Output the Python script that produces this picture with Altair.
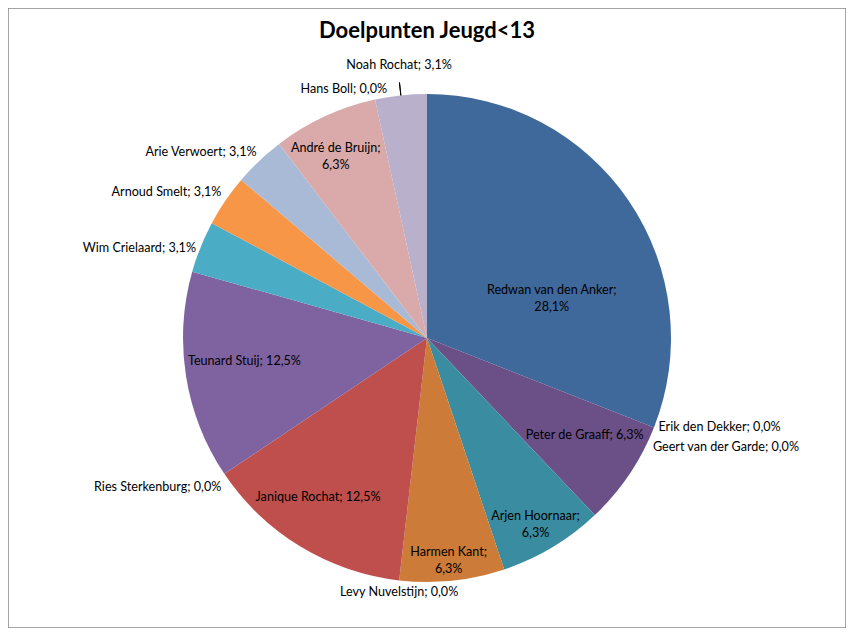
import math
import altair as alt
import pandas as pd

# ---- data ----
players = ["Redwan van den Anker", "Erik den Dekker", "Geert van der Garde", "Peter de Graaff",
           "Arjen Hoornaar", "Harmen Kant", "Levy Nuvelstijn", "Janique Rochat",
           "Ries Sterkenburg", "Teunard Stuij", "Wim Crielaard", "Arnoud Smelt",
           "Arie Verwoert", "André de Bruijn", "Hans Boll", "Noah Rochat"]
shares = [28.1, 0.0, 0.0, 6.3, 6.3, 6.3, 0.0, 12.5, 0.0, 12.5, 3.1, 3.1, 3.1, 6.3, 0.0, 3.1]
two_line_labels = ["Redwan van den Anker", "Arjen Hoornaar", "Harmen Kant", "André de Bruijn"]

# ---- styling / layout ----
colors = ["#3F689B", "#9BBB59", "#8064A2", "#6A5087", "#3A8CA0", "#CC7B38", "#4F81BD",
          "#BE4F4D", "#C0504D", "#7F63A1", "#4BACC6", "#F79646", "#A9BAD7", "#D9AAA9",
          "#9BBB59", "#B9B0CB"]
# label placement: radius in px, angular nudge in degrees, alignment
label_layout = {
    "Redwan van den Anker": (131, 16.5, "center"),
    "Erik den Dekker": (248, -0.5, "left"),
    "Geert van der Garde": (251, 4.3, "left"),
    "Peter de Graaff": (185, -2.5, "center"),
    "Arjen Hoornaar": (216, 0.8, "center"),
    "Harmen Kant": (224, 0.4, "center"),
    "Levy Nuvelstijn": (256, -0.3, "center"),
    "Janique Rochat": (193, 3.0, "center"),
    "Ries Sterkenburg": (254, -2.1, "right"),
    "Teunard Stuij": (184, 1.8, "center"),
    "Wim Crielaard": (248, -0.6, "right"),
    "Arnoud Smelt": (252, 1.1, "right"),
    "Arie Verwoert": (252, 0.9, "right"),
    "André de Bruijn": (203, -1.9, "center"),
    "Hans Boll": (252, 3.2, "right"),
    "Noah Rochat": (274, 0.3, "center"),
}
CX, CY, R = 419, 330, 244
FONT = "Lato"
FS = 12.6
LH = 17

total = sum(shares)
rows = []
acc = 0.0
for name, v in zip(players, shares):
    start, end = acc, acc + v
    acc = end
    pct = f"{v:.1f}".replace(".", ",") + "%"
    two = name in two_line_labels
    label = f"{name};\n{pct}" if two else f"{name}; {pct}"
    r, nudge, align = label_layout[name]
    mid = (start + end) / 2
    rows.append(dict(player=name, share=v, start=start, end=end, mid=mid,
                     lpos=(mid + nudge / 360 * total) % total, lr=r, align=align,
                     lines=2 if two else 1, label=label))
df = pd.DataFrame(rows)

theta_scale = alt.Scale(domain=[0, total], range=[0, 2 * math.pi])

base = alt.Chart(df)

pie = base.mark_arc(radius=R).encode(
    x=alt.value(CX), y=alt.value(CY),
    theta=alt.Theta("start:Q", scale=theta_scale),
    theta2="end:Q",
    color=alt.Color("player:N", scale=alt.Scale(domain=players, range=colors), legend=None),
)

leader = base.transform_filter(alt.datum.player == "Noah Rochat").mark_arc(
    radius=257, radius2=244, stroke="black", strokeWidth=1, fill="black"
).encode(
    x=alt.value(CX), y=alt.value(CY),
    theta=alt.Theta("mid:Q", scale=theta_scale),
    theta2="mid:Q",
)

def label_layer(al, lines):
    return base.transform_filter(
        (alt.datum.align == al) & (alt.datum.lines == lines)
    ).mark_text(
        align=al, baseline="middle", font=FONT, fontSize=FS, color="black", lineBreak="\n",
        lineHeight=LH, dy=-(lines - 1) * LH / 2
    ).encode(
        x=alt.value(CX), y=alt.value(CY),
        theta=alt.Theta("lpos:Q", scale=theta_scale),
        radius=alt.Radius("lr:Q", scale=None),
        text="label:N",
    )

chart = alt.layer(
    pie, leader,
    label_layer("center", 1), label_layer("center", 2),
    label_layer("left", 1), label_layer("right", 1),
).properties(
    width=838, height=620,
    padding=0,
    autosize=alt.AutoSizeParams(type="none"),
    background="white",
    title=alt.TitleParams(
        text="Doelpunten Jeugd<13", font=FONT, fontSize=22, fontWeight="bold", color="black",
        anchor="middle", frame="group", baseline="alphabetic", offset=-52,
    ),
).configure_view(stroke="#868686", strokeWidth=1.5)

chart.save("out.html", embed_options={"renderer": "svg", "actions": False})
